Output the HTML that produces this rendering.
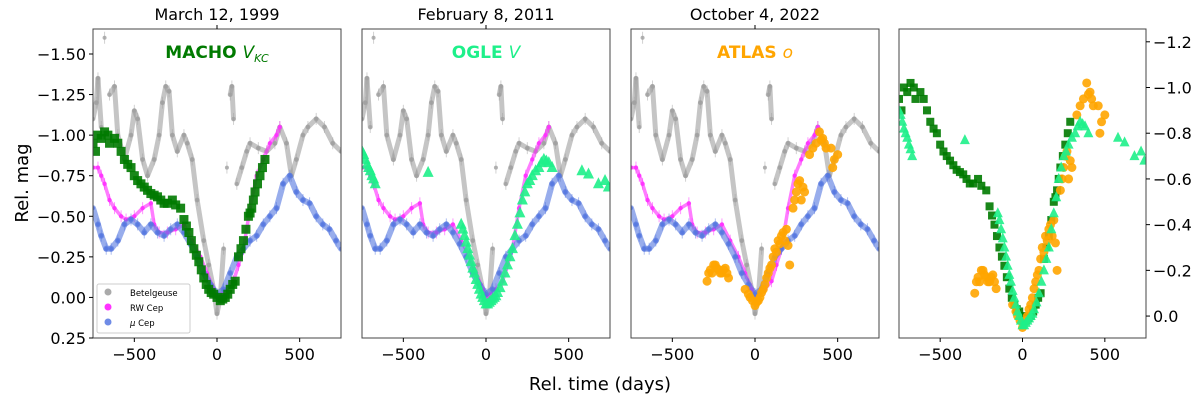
<!DOCTYPE html>
<html><head><meta charset="utf-8"><style>
body{margin:0;background:#fff;font-family:"Liberation Sans","DejaVu Sans",sans-serif}
svg text{font-family:"DejaVu Sans","Liberation Sans",sans-serif}
</style></head><body>
<svg id="c" width="1200" height="400" xmlns="http://www.w3.org/2000/svg"></svg>
<script>
const betT=[-750,-730,-720,-700,-680,-650,-620,-600,-560,-520,-500,-480,-450,-420,-380,-350,-330,-310,-290,-270,-240,-200,-180,-150,-120,-80,-50,-20,0,20,40,60,80,90,100,120,150,180,200,250,300,350,380,420,450,480,520,550,600,650,700,750];
const betM=[-1.1,-1.2,-1.35,-1.05,-1.6,-1.25,-1.3,-1.0,-0.85,-1.0,-1.15,-1.1,-0.85,-0.75,-0.85,-1.0,-1.2,-1.3,-1.27,-1.0,-0.9,-1.0,-0.95,-0.85,-0.6,-0.35,-0.2,-0.05,0.1,0.0,-0.3,-0.8,-1.25,-1.3,-1.1,-0.7,-0.8,-0.9,-0.95,-0.92,-0.9,-0.95,-1.05,-0.95,-0.75,-0.85,-1.0,-1.05,-1.1,-1.05,-0.95,-0.9];
const rwT=[-750,-720,-700,-680,-650,-620,-580,-550,-500,-450,-400,-380,-350,-300,-250,-200,-150,-100,-60,-20,0,30,60,100,130,160,200,240,280,320,360,380];
const rwM=[-0.8,-0.8,-0.75,-0.7,-0.6,-0.55,-0.5,-0.48,-0.5,-0.55,-0.58,-0.45,-0.4,-0.4,-0.42,-0.45,-0.35,-0.25,-0.15,-0.05,0.0,-0.02,-0.05,-0.1,-0.2,-0.3,-0.55,-0.75,-0.85,-0.95,-1.0,-1.05];
const muT=[-750,-720,-700,-670,-640,-600,-560,-520,-480,-440,-400,-360,-320,-280,-240,-200,-160,-120,-80,-40,0,40,80,120,160,200,240,280,320,360,400,440,480,520,560,600,640,680,720,750];
const muM=[-0.55,-0.45,-0.38,-0.3,-0.3,-0.35,-0.45,-0.48,-0.45,-0.4,-0.45,-0.4,-0.38,-0.42,-0.45,-0.4,-0.33,-0.25,-0.15,-0.08,-0.02,-0.05,-0.15,-0.25,-0.3,-0.35,-0.38,-0.45,-0.5,-0.55,-0.7,-0.75,-0.65,-0.6,-0.58,-0.5,-0.45,-0.42,-0.35,-0.3];
const machoT=[-750,-735,-720,-700,-680,-660,-650,-620,-600,-580,-560,-540,-520,-500,-480,-460,-440,-420,-400,-380,-360,-340,-320,-300,-270,-250,-220,-200,-185,-170,-155,-140,-125,-110,-95,-80,-65,-50,-35,-20,0,20,35,50,65,80,95,110,130,145,160,175,190,200,210,220,230,245,260,275,290];
const machoM=[-0.95,-0.9,-1.0,-0.98,-1.02,-1.0,-0.95,-0.98,-0.95,-0.9,-0.85,-0.82,-0.8,-0.75,-0.72,-0.7,-0.68,-0.66,-0.64,-0.63,-0.62,-0.6,-0.58,-0.58,-0.6,-0.57,-0.55,-0.48,-0.44,-0.4,-0.35,-0.3,-0.26,-0.22,-0.17,-0.12,-0.08,-0.05,-0.03,-0.02,0.0,0.02,0.01,0.0,-0.02,-0.05,-0.08,-0.1,-0.25,-0.3,-0.35,-0.42,-0.5,-0.52,-0.55,-0.6,-0.65,-0.7,-0.75,-0.8,-0.85];
const ogleT=[-750,-740,-730,-720,-710,-700,-690,-680,-670,-350,-150,-140,-130,-120,-110,-100,-90,-80,-70,-60,-50,-40,-30,-20,-10,0,10,20,30,40,50,60,70,85,100,115,130,145,160,175,190,205,220,235,250,265,280,300,320,335,350,365,380,400,580,620,680,720,740];
const ogleM=[-0.9,-0.88,-0.85,-0.82,-0.8,-0.78,-0.75,-0.73,-0.7,-0.77,-0.45,-0.42,-0.38,-0.34,-0.3,-0.26,-0.22,-0.18,-0.15,-0.11,-0.08,-0.05,-0.02,0.0,0.02,0.04,0.04,0.03,0.02,0.01,0.0,-0.01,-0.03,-0.06,-0.1,-0.15,-0.2,-0.25,-0.3,-0.38,-0.45,-0.52,-0.6,-0.65,-0.7,-0.72,-0.75,-0.78,-0.8,-0.83,-0.85,-0.84,-0.83,-0.8,-0.78,-0.76,-0.7,-0.72,-0.68];
const atlasT=[-290,-280,-270,-260,-250,-240,-230,-220,-210,-200,-190,-180,-170,-160,-60,-40,-30,-15,0,10,20,30,40,50,60,70,80,90,100,110,120,130,140,150,160,170,180,190,200,210,230,240,250,260,270,280,290,300,330,350,370,390,400,410,420,430,460,470,480,500];
const atlasM=[-0.1,-0.15,-0.17,-0.15,-0.2,-0.2,-0.18,-0.17,-0.15,-0.15,-0.17,-0.18,-0.15,-0.12,-0.05,-0.02,0.0,0.02,0.05,0.03,0.02,0.0,-0.03,-0.05,-0.08,-0.12,-0.15,-0.18,-0.2,-0.25,-0.3,-0.28,-0.35,-0.33,-0.38,-0.4,-0.35,-0.42,-0.32,-0.2,-0.55,-0.6,-0.65,-0.7,-0.72,-0.6,-0.68,-0.65,-0.88,-0.92,-0.95,-1.02,-0.97,-0.98,-0.95,-0.92,-0.92,-0.8,-0.85,-0.88];
const xTicks=[-500,0,500];
const yTicksL=[-1.5,-1.25,-1.0,-0.75,-0.5,-0.25,0,0.25];
const yTicksR=[-1.2,-1.0,-0.8,-0.6,-0.4,-0.2,0.0];
const titles=["March 12, 1999","February 8, 2011","October 4, 2022"];

const NS="http://www.w3.org/2000/svg",svg=document.getElementById('c');
function mk(tag,at,parent){const e=document.createElementNS(NS,tag);for(const k in at)e.setAttribute(k,at[k]);(parent||svg).appendChild(e);return e;}
const T=29,B=338;
const panels=[{L:93,R:341,y0:-1.654,y1:0.25},{L:362,R:610,y0:-1.654,y1:0.25},{L:631,R:879,y0:-1.654,y1:0.25},{L:899,R:1146,y0:-1.256,y1:0.096}];
function sx(p,t){return p.L+(t+750)/1500*(p.R-p.L);}
function sy(p,m){return T+(m-p.y0)/(p.y1-p.y0)*(B-T);}
function clipG(p,i){const cp=mk('clipPath',{id:'cp'+i});mk('rect',{x:p.L,y:T,width:p.R-p.L,height:B-T},cp);const g=mk('g',{'clip-path':'url(#cp'+i+')'});return g;}
function dots(g,p,ts,ms,col,r,op,name,w){
  const sg=mk('g',{},g);
  for(let i=1;i<ts.length;i++){
    if(ts[i]-ts[i-1]<=55&&Math.abs(ms[i]-ms[i-1])<0.35){
      const l=mk('line',{x1:sx(p,ts[i-1]),y1:sy(p,ms[i-1]),x2:sx(p,ts[i]),y2:sy(p,ms[i]),stroke:col,'stroke-width':w,'stroke-linecap':'round',opacity:op*0.75},sg);
      }
  }
  ts.forEach((t,i)=>{const x=sx(p,t),y=sy(p,ms[i]);
    const e=mk('line',{x1:x,x2:x,y1:y-6,y2:y+6,stroke:col,'stroke-width':1,opacity:op*0.6},sg);
    const c=mk('circle',{cx:x,cy:y,r:r,fill:col,opacity:op},sg);});
}
function squares(g,p,ts,ms,col,s,name){const sg=mk('g',{},g);
  ts.forEach((t,i)=>{const r=mk('rect',{x:sx(p,t)-s/2,y:sy(p,ms[i])-s/2,width:s,height:s,fill:col,opacity:0.9},sg);});}
function tris(g,p,ts,ms,col,s,name){const sg=mk('g',{},g);
  ts.forEach((t,i)=>{const x=sx(p,t),y=sy(p,ms[i]);const q=mk('polygon',{points:`${x},${y-s*0.6} ${x-s/2},${y+s*0.4} ${x+s/2},${y+s*0.4}`,fill:col,opacity:0.9},sg);});}
function circles(g,p,ts,ms,col,r,name){const sg=mk('g',{},g);
  ts.forEach((t,i)=>{const c=mk('circle',{cx:sx(p,t),cy:sy(p,ms[i]),r:r,fill:col,opacity:0.9},sg);});}
const GREEN="#007a00",OGLE="#1ef08a",ORANGE="#ffa500";
panels.forEach((p,i)=>{
  const g=clipG(p,i);
  if(i<3){
    dots(g,p,betT,betM,"#a0a0a0",2,0.8,"betelgeuse-series",5);
    dots(g,p,rwT,rwM,"#ff33ff",2.2,0.85,"rw-cep-series",3.5);
    dots(g,p,muT,muM,"#5577e0",2,0.8,"mu-cep-series",6);
    if(i==0)squares(g,p,machoT,machoM,GREEN,9,"macho-series");
    if(i==1)tris(g,p,ogleT,ogleM,OGLE,11,"ogle-series");
    if(i==2)circles(g,p,atlasT,atlasM,ORANGE,4.5,"atlas-series");
  }else{
    squares(g,p,machoT,machoM,GREEN,8,"macho-compare-series");
    circles(g,p,atlasT,atlasM,ORANGE,4.5,"atlas-compare-series");
    tris(g,p,ogleT,ogleM,OGLE,10,"ogle-compare-series");
  }
  const fr=mk('rect',{x:p.L,y:T,width:p.R-p.L,height:B-T,fill:'none',stroke:'#444','stroke-width':1});
  xTicks.forEach(v=>{const x=sx(p,v);mk('line',{x1:x,x2:x,y1:B,y2:B+4,stroke:'#000'});
    const t=mk('text',{x:x,y:B+22,'font-size':16,'text-anchor':'middle'});t.textContent=(v<0?'\u2212':'')+Math.abs(v);});
  if(i==0)yTicksL.forEach(v=>{const y=sy(p,v);mk('line',{x1:p.L-4,x2:p.L,y1:y,y2:y,stroke:'#000'});
    const t=mk('text',{x:p.L-7,y:y+6,'font-size':16,'text-anchor':'end'});t.textContent=(v<0?'\u2212':'')+Math.abs(v).toFixed(2);});
  if(i==3)yTicksR.forEach(v=>{const y=sy(p,v);mk('line',{x1:p.R,x2:p.R+4,y1:y,y2:y,stroke:'#000'});
    const t=mk('text',{x:p.R+7,y:y+6,'font-size':16,'text-anchor':'start'});t.textContent=(v<0?'\u2212':'')+Math.abs(v).toFixed(1);});
  if(i<3){const x0=sx(p,0);mk('line',{x1:x0,x2:x0,y1:T-4,y2:T,stroke:'#000'});
    const t=mk('text',{x:x0,y:20,'font-size':16,'text-anchor':'middle'});t.textContent=titles[i];}
});
</script>
<svg width="1200" height="400" style="position:absolute;left:0;top:0" xmlns="http://www.w3.org/2000/svg">
<text x="217" y="58" font-size="17" font-weight="bold" fill="#007a00" text-anchor="middle" font-family="DejaVu Sans">MACHO <tspan font-weight="normal" font-style="italic">V</tspan><tspan font-weight="normal" font-style="italic" font-size="11" dy="4">KC</tspan></text>
<text x="486" y="58" font-size="17" font-weight="bold" fill="#1ef08a" text-anchor="middle" font-family="DejaVu Sans">OGLE <tspan font-weight="normal" font-style="italic">V</tspan></text>
<text x="755" y="58" font-size="17" font-weight="bold" fill="#ffa500" text-anchor="middle" font-family="DejaVu Sans">ATLAS <tspan font-weight="normal" font-style="italic">o</tspan></text>
<text x="28" y="183" font-size="18" text-anchor="middle" transform="rotate(-90 28 183)" font-family="DejaVu Sans">Rel. mag</text>
<text x="600" y="390" font-size="18" text-anchor="middle" font-family="DejaVu Sans">Rel. time (days)</text>
<g font-family="DejaVu Sans" font-size="8.5">
<rect x="97" y="284" width="93" height="49" fill="#fff" fill-opacity="0.85" stroke="#ccc" rx="2"/>
<circle cx="108" cy="292" r="3.5" fill="#aaa"/><text x="130" y="296">Betelgeuse</text>
<circle cx="108" cy="307" r="3.5" fill="#ff33ff"/><text x="130" y="311">RW Cep</text>
<circle cx="108" cy="322" r="3.5" fill="#6f8be6"/><text x="130" y="326"><tspan font-style="italic">μ</tspan> Cep</text>
</g>
</svg>
</body></html>
